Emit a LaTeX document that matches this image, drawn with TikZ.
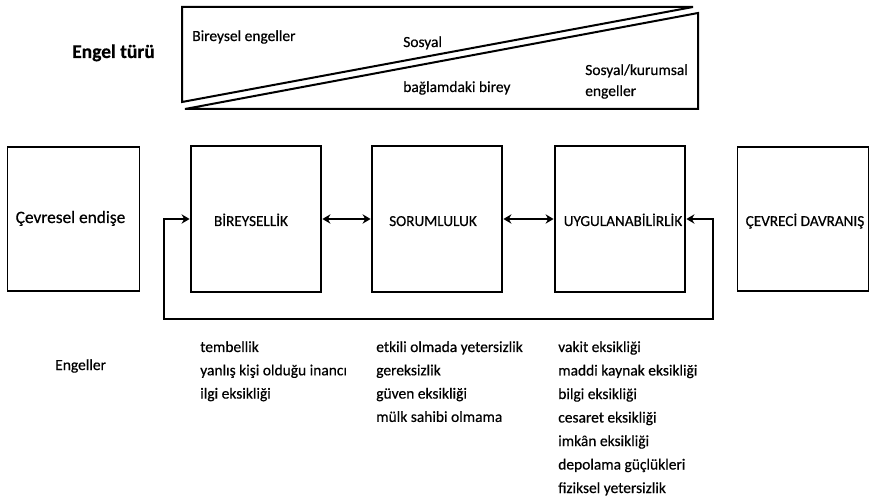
\documentclass[tikz,border=0pt]{standalone}
\usepackage{fontspec}
\setmainfont{Carlito}[FakeBold=0.5]
\newfontfamily\headfont{Carlito}[FakeBold=0.6]
\usetikzlibrary{arrows.meta}
\begin{document}
\begin{tikzpicture}[x=0.75pt,y=-0.75pt,
  small/.style={font=\fontsize{11.6}{14}\selectfont,inner sep=0pt},
  capstext/.style={font=\fontsize{11.4}{14}\selectfont,inner sep=0pt,anchor=base},
  thinbox/.style={draw,line width=0.9pt,minimum width=98.5pt,minimum height=108pt,inner sep=0pt},
  thickbox/.style={draw,line width=1.6pt,minimum width=98pt,minimum height=109pt,inner sep=0pt},
  topline/.style={line width=1.5pt,line join=miter},
  conn/.style={line width=1.1pt,{Stealth[length=6pt,width=7pt]}-{Stealth[length=6pt,width=7pt]}}]
\useasboundingbox (0,0) rectangle (872,499);
% top box
\draw[topline] (182,102) -- (182,7) -- (693,7) -- cycle;
\draw[topline] (185,109) -- (698,109) -- (698,13) -- cycle;
\node[small,anchor=base west] (be) at (192,41) {Bireysel engeller};
\node[small,anchor=base west] (so) at (403,47) {Sosyal};
\node[small,anchor=base west] (bb) at (403,92) {bağlamdaki birey};
\node[small,anchor=base west] (sk) at (585,75) {Sosyal/kurumsal};
\node[small,anchor=base west] (en) at (585,96) {engeller};
\node[font=\fontsize{14.6}{16}\selectfont\bfseries,inner sep=0pt,anchor=base west] (et) at (72,58) {Engel türü};
% boxes
\node[thinbox] (cev) at (73.5,219) {};
\node[thickbox] (bir) at (256,219) {};
\node[thickbox] (sor) at (437,219) {};
\node[thickbox] (uyg) at (620,219) {};
\node[thinbox] (dav) at (803,219) {};
\node[font=\fontsize{13}{15}\selectfont,inner sep=0pt,anchor=base] (tcev) at (70.5,223) {Çevresel endişe};
\node[capstext] (tbir) at (251,226) {BİREYSELLİK};
\node[capstext] (tsor) at (433,226) {SORUMLULUK};
\node[capstext] (tuyg) at (623,226) {UYGULANABİLİRLİK};
\node[capstext] (tdav) at (805,226) {ÇEVRECİ DAVRANIŞ};
% connectors
\draw[conn] (bir.east) -- (sor.west);
\draw[conn] (sor.east) -- (uyg.west);
\coordinate (fbL) at (164,319);
\coordinate (fbR) at (713,319);
\draw[conn] (bir.west) -- (bir.west -| fbL) -- (fbL) -- (fbR) -- (uyg.east -| fbR) -- (uyg.east);
% barriers
\node[small,anchor=base west] (eng) at (55,370) {Engeller};
\foreach [count=\i] \t in {tembellik,yanlış kişi olduğu inancı,ilgi eksikliği}
  \node[small,anchor=base west] (a\i) at (200,{352+23.3*(\i-1)}) {\t};
\foreach [count=\i] \t in {etkili olmada yetersizlik,gereksizlik,güven eksikliği,mülk sahibi olmama}
  \node[small,anchor=base west] (b\i) at (376,{352+23.3*(\i-1)}) {\t};
\foreach [count=\i] \t in {vakit eksikliği,maddi kaynak eksikliği,bilgi eksikliği,cesaret eksikliği,imkân eksikliği,depolama güçlükleri,fiziksel yetersizlik}
  \node[small,anchor=base west] (c\i) at (558,{352+23.5*(\i-1)}) {\t};
\end{tikzpicture}
\end{document}
